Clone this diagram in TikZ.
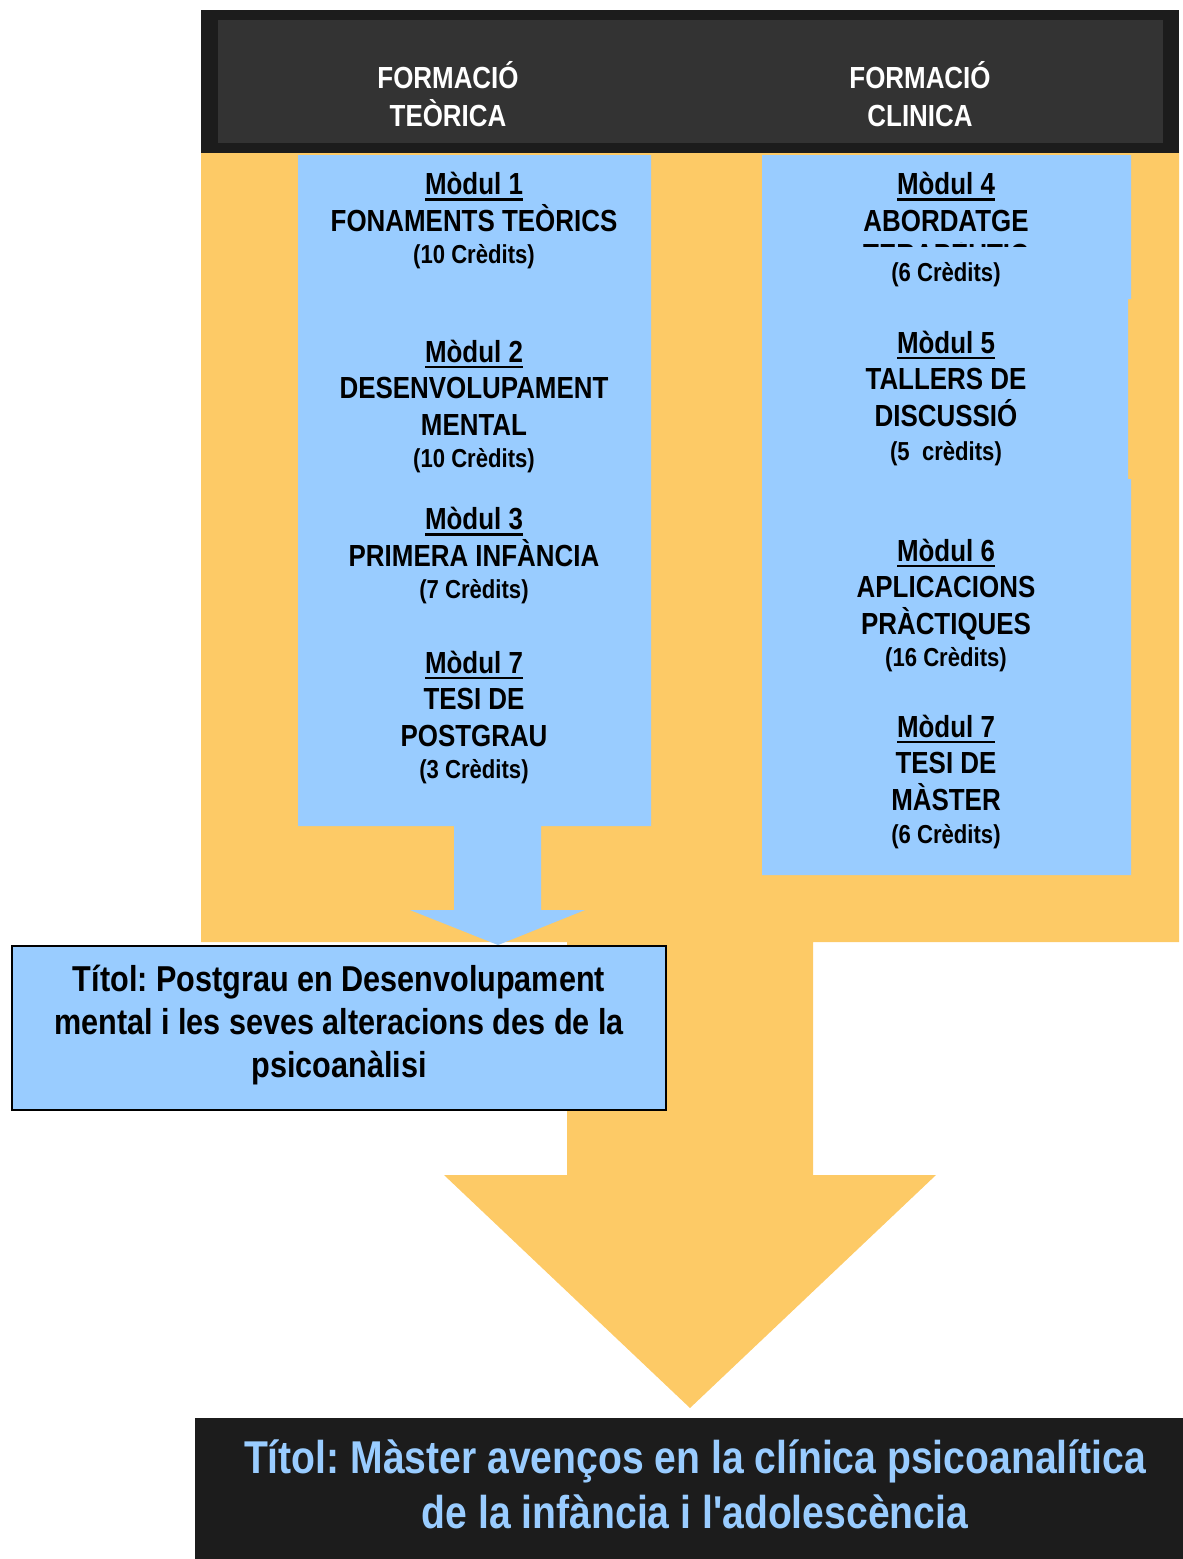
\documentclass[tikz,border=0pt]{standalone}
\usepackage{fontspec}
\newfontfamily\af{Liberation Sans}[FakeStretch=0.85]
\frenchspacing
\definecolor{orng}{HTML}{FDCA66}
\definecolor{lblue}{HTML}{99CCFF}
\definecolor{dk}{HTML}{1C1C1C}
\definecolor{dktwo}{HTML}{333333}
\newcommand\modfont{\af\bfseries\fontsize{30.5}{36.5}\selectfont}
\newcommand\credf{\af\bfseries\fontsize{26}{30}\selectfont}
\newcommand\ulmod[1]{\setbox0\hbox{#1}\rlap{\rule[-6pt]{\wd0}{2.5pt}}\box0}
\begin{document}
\begin{tikzpicture}[x=1pt,y=-1pt,
  modtext/.style={font=\modfont, align=center, anchor=base, inner sep=0pt, text=black},
  headtext/.style={font=\af\bfseries\fontsize{30.5}{38}\selectfont, align=center, anchor=base, inner sep=0pt, text=white},
  credtext/.style={font=\credf, anchor=base, inner sep=0pt, text=black}]
\useasboundingbox (0,0) rectangle (1183,1559);
% orange big arrow
\fill[orng] (201,150) -- (1179,150) -- (1179,942) -- (813,942) -- (813,1175) -- (936,1175)
  -- (690,1408) -- (444,1175) -- (567,1175) -- (567,942) -- (201,942) -- cycle;
% header
\fill[dk] (201,10) rectangle (1179,153);
\fill[dktwo] (218,20) rectangle (1163,143);
% left blue column with arrow
\fill[lblue] (298,155) -- (651,155) -- (651,826) -- (541,826) -- (541,910) -- (585,910)
  -- (498,945) -- (410,910) -- (454,910) -- (454,826) -- (298,826) -- cycle;
% right blue column
\fill[lblue] (762,155) -- (1131,155) -- (1131,299) -- (1128,299) -- (1128,479) -- (1131,479)
  -- (1131,875) -- (762,875) -- cycle;
% postgrau box
\filldraw[fill=lblue, draw=black, line width=2pt] (12,946) rectangle (666,1110);
% master box
\fill[dk] (195,1418) rectangle (1183,1559);

% header texts (anchor = baseline of last line)
\node[headtext] (h1) at (448,126) {FORMACIÓ\\TEÒRICA};
\node[headtext] (h2) at (920,126) {FORMACIÓ\\CLINICA};

% left modules
\node[modtext] (m1) at (474,263) {\ulmod{Mòdul 1}\\FONAMENTS TEÒRICS\\[-4.5pt]{\credf (10 Crèdits)}};
\node[modtext] (m2) at (474,467) {\ulmod{Mòdul 2}\\DESENVOLUPAMENT\\MENTAL\\[-4.5pt]{\credf (10 Crèdits)}};
\node[modtext] (m3) at (474,598) {\ulmod{Mòdul 3}\\PRIMERA INFÀNCIA\\[-4.5pt]{\credf (7 Crèdits)}};
\node[modtext] (m7a) at (474,778) {\ulmod{Mòdul 7}\\TESI DE\\POSTGRAU\\[-4.5pt]{\credf (3 Crèdits)}};

% right modules
\node[modtext] (m4) at (946,231) {\ulmod{Mòdul 4}\\ABORDATGE};
\begin{scope}
\clip (850,242.5) rectangle (1045,246);
\node[modtext] (m4c) at (946,265) {TERAPÈUTIC};
\end{scope}
\node[credtext] (m4cr) at (946,281) {(6 Crèdits)};
\node[modtext] (m5) at (946,460) {\ulmod{Mòdul 5}\\TALLERS DE\\DISCUSSIÓ\\[-2.5pt]{\credf (5\ \ crèdits)}};
\node[modtext] (m6) at (946,666) {\ulmod{Mòdul 6}\\APLICACIONS\\PRÀCTIQUES\\[-4.5pt]{\credf (16 Crèdits)}};
\node[modtext] (m7b) at (946,843) {\ulmod{Mòdul 7}\\TESI DE\\MÀSTER\\[-3.5pt]{\credf (6 Crèdits)}};

% titles
\node[font=\af\bfseries\fontsize{36}{43}\selectfont, align=center, anchor=base, inner sep=0pt] (pg) at (339,1077)
  {Títol: Postgrau en Desenvolupament\\mental i les seves alteracions des de la\\psicoanàlisi};
\node[font=\af\bfseries\fontsize{46}{55}\selectfont, align=center, anchor=base, inner sep=0pt, text=lblue] (ms) at (695,1528)
  {Títol: Màster avenços en la clínica psicoanalítica\\de la infància i l'adolescència};
\end{tikzpicture}
\end{document}
